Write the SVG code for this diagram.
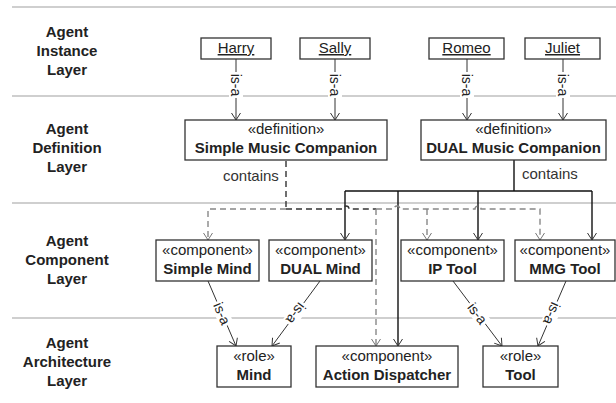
<svg xmlns="http://www.w3.org/2000/svg" width="616" height="403" viewBox="0 0 616 403">
<style>
.layer{stroke:#cfcfcf;stroke-width:2;fill:none}
.lbl{font-family:"Liberation Sans",Arial,sans-serif;font-size:15px;font-weight:bold;fill:#222;text-anchor:middle}
.box{fill:#fff;stroke:#333;stroke-width:1.3}
.t{font-family:"Liberation Sans",Arial,sans-serif;font-size:15px;fill:#222;text-anchor:middle}
.b{font-weight:bold}
.u{text-decoration:underline}
.isa{stroke:#333;stroke-width:1;fill:none;marker-end:url(#ad)}
.dash{stroke:#888;stroke-width:1.4;stroke-dasharray:6 4;fill:none}
.dashd{stroke:#333;stroke-width:1.4;stroke-dasharray:6 4;fill:none}
.sol{stroke:#111;stroke-width:1.4;fill:none}
.ia{font-family:"Liberation Sans",Arial,sans-serif;font-size:14px;fill:#222;text-anchor:middle}
.ct{font-family:"Liberation Sans",Arial,sans-serif;font-size:15px;fill:#333}
</style>
<defs>
<marker id="ad" markerUnits="userSpaceOnUse" markerWidth="8" markerHeight="10" refX="7" refY="5" orient="auto" overflow="visible">
<path d="M0,0.5 L7,5 L0,9.5" fill="none" stroke="#333" stroke-width="1"/>
</marker>
<marker id="ag" markerUnits="userSpaceOnUse" markerWidth="8" markerHeight="10" refX="7" refY="5" orient="auto" overflow="visible">
<path d="M0,0.5 L7,5 L0,9.5" fill="none" stroke="#777" stroke-width="1"/>
</marker>
</defs>
<rect width="616" height="403" fill="#fff"/>
<g id="layers">
<path class="layer" d="M12,7H616M12,96H616M12,203H616M12,318H616"/>
<text class="lbl" x="67" y="37">Agent</text><text class="lbl" x="67" y="56">Instance</text><text class="lbl" x="67" y="75">Layer</text>
<text class="lbl" x="67" y="134">Agent</text><text class="lbl" x="67" y="153">Definition</text><text class="lbl" x="67" y="172">Layer</text>
<text class="lbl" x="67" y="246">Agent</text><text class="lbl" x="67" y="265">Component</text><text class="lbl" x="67" y="284">Layer</text>
<text class="lbl" x="67" y="348">Agent</text><text class="lbl" x="67" y="367">Architecture</text><text class="lbl" x="67" y="386">Layer</text>
</g>
<g id="connectors">
<!-- instance is-a -->
<path class="isa" d="M236,59V120"/>
<path class="isa" d="M335,59V120"/>
<path class="isa" d="M467,59V120"/>
<path class="isa" d="M563,59V120"/>
<g transform="translate(236,85) rotate(90)"><rect x="-13" y="-7" width="26" height="14" fill="#fff"/><text class="ia" y="5">is-a</text></g>
<g transform="translate(335,85) rotate(90)"><rect x="-13" y="-7" width="26" height="14" fill="#fff"/><text class="ia" y="5">is-a</text></g>
<g transform="translate(467,85) rotate(90)"><rect x="-13" y="-7" width="26" height="14" fill="#fff"/><text class="ia" y="5">is-a</text></g>
<g transform="translate(563,85) rotate(90)"><rect x="-13" y="-7" width="26" height="14" fill="#fff"/><text class="ia" y="5">is-a</text></g>
<!-- DUAL contains (solid) -->
<path class="sol" d="M514,160V191M345,191H592"/>
<path class="sol" stroke-width="1" d="M345,191V240" marker-end="url(#ad)"/>
<path class="sol" stroke-width="1" d="M398,191V346" marker-end="url(#ad)"/>
<path class="sol" stroke-width="1" d="M478,191V240" marker-end="url(#ad)"/>
<path class="sol" stroke-width="1" d="M592,191V240" marker-end="url(#ad)"/>
<text class="ct" x="522" y="179">contains</text>
<!-- Simple contains (dashed) -->
<path class="dashd" d="M286,161V209"/>
<path class="dash" d="M286,209H208V240" marker-end="url(#ag)"/>
<path class="dashd" d="M286,209H343A3,3 0 0 1 349,209H376"/>
<path class="dash" d="M376,209V346" marker-end="url(#ag)"/>
<path class="dash" d="M376,209H394A3,3 0 0 1 400,209H475A3,3 0 0 1 481,209H540V240" marker-end="url(#ag)"/>
<path class="dash" d="M427,209V240" marker-end="url(#ag)"/>
<text class="ct" x="223" y="181">contains</text>
<!-- component is-a -->
<path class="isa" d="M208,281L236,346"/>
<path class="isa" d="M320,281L272,346"/>
<path class="isa" d="M453,281L502,346"/>
<path class="isa" d="M566,281L538,346"/>
<g transform="translate(222,313.5) rotate(66.7)"><rect x="-13" y="-7" width="26" height="14" fill="#fff"/><text class="ia" y="5">is-a</text></g>
<g transform="translate(296,313.5) rotate(126.4)"><rect x="-13" y="-7" width="26" height="14" fill="#fff"/><text class="ia" y="5">is-a</text></g>
<g transform="translate(477.5,313.5) rotate(53)"><rect x="-13" y="-7" width="26" height="14" fill="#fff"/><text class="ia" y="5">is-a</text></g>
<g transform="translate(552,313.5) rotate(113.3)"><rect x="-13" y="-7" width="26" height="14" fill="#fff"/><text class="ia" y="5">is-a</text></g>
</g>
<g id="harry"><rect class="box" x="201" y="38" width="70" height="21"/><text class="t u" x="236" y="53">Harry</text></g>
<g id="sally"><rect class="box" x="300" y="38" width="70" height="21"/><text class="t u" x="335" y="53">Sally</text></g>
<g id="romeo"><rect class="box" x="429" y="38" width="75" height="21"/><text class="t u" x="466.5" y="53">Romeo</text></g>
<g id="juliet"><rect class="box" x="525" y="38" width="75" height="21"/><text class="t u" x="562.5" y="53">Juliet</text></g>
<g id="simple-music-companion"><rect class="box" x="185" y="120" width="202" height="40"/><text class="t" x="286" y="134">«definition»</text><text class="t b" x="286" y="153">Simple Music Companion</text></g>
<g id="dual-music-companion"><rect class="box" x="421" y="120" width="185" height="40"/><text class="t" x="513.5" y="134">«definition»</text><text class="t b" x="513.5" y="153">DUAL Music Companion</text></g>
<g id="simple-mind"><rect class="box" x="156" y="240" width="103" height="41"/><text class="t" x="207.5" y="255">«component»</text><text class="t b" x="207.5" y="274">Simple Mind</text></g>
<g id="dual-mind"><rect class="box" x="269" y="240" width="103" height="41"/><text class="t" x="320.5" y="255">«component»</text><text class="t b" x="320.5" y="274">DUAL Mind</text></g>
<g id="ip-tool"><rect class="box" x="401" y="240" width="103" height="41"/><text class="t" x="452.5" y="255">«component»</text><text class="t b" x="452.5" y="274">IP Tool</text></g>
<g id="mmg-tool"><rect class="box" x="515" y="240" width="100" height="41"/><text class="t" x="565" y="255">«component»</text><text class="t b" x="565" y="274">MMG Tool</text></g>
<g id="mind"><rect class="box" x="217" y="346" width="74" height="41"/><text class="t" x="254" y="361">«role»</text><text class="t b" x="254" y="380">Mind</text></g>
<g id="action-dispatcher"><rect class="box" x="316" y="346" width="142" height="41"/><text class="t" x="387" y="361">«component»</text><text class="t b" x="387" y="380">Action Dispatcher</text></g>
<g id="tool"><rect class="box" x="483" y="346" width="75" height="41"/><text class="t" x="520.5" y="361">«role»</text><text class="t b" x="520.5" y="380">Tool</text></g>
</svg>
